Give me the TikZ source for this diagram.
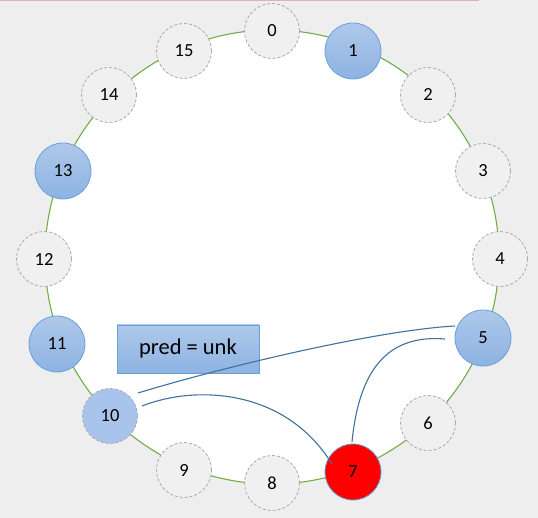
\documentclass[tikz,border=0pt]{standalone}
\usepackage{fontspec}
\setmainfont{Carlito}
\usetikzlibrary{calc}
\definecolor{bg}{HTML}{EEEEEE}
\definecolor{pinkline}{HTML}{E2AEBE}
\definecolor{ringgreen}{HTML}{70AD47}
\definecolor{dashgray}{HTML}{A9A9A9}
\definecolor{nodegray}{HTML}{F0F0F0}
\definecolor{blueTop}{HTML}{AEC8EA}
\definecolor{blueBot}{HTML}{8DB3E2}
\definecolor{blueedge}{HTML}{6A9FD8}
\definecolor{lightblue}{HTML}{A9C4EA}
\definecolor{linkblue}{HTML}{41719C}
\tikzset{
  idle/.style={circle, minimum size=55pt, inner sep=0pt, draw=dashgray, line width=0.8pt,
    dash pattern=on 3pt off 2pt, fill=nodegray, font=\fontsize{18.5}{18.5}\selectfont},
  live/.style={circle, minimum size=56pt, inner sep=0pt, draw=blueedge, line width=0.8pt,
    top color=blueTop, bottom color=blueBot, font=\fontsize{18.5}{18.5}\selectfont},
  halfnode/.style={circle, minimum size=55pt, inner sep=0pt, draw=dashgray, line width=0.8pt,
    dash pattern=on 3pt off 2pt, fill=lightblue, font=\fontsize{18.5}{18.5}\selectfont},
  hotnode/.style={circle, minimum size=56pt, inner sep=0pt, draw=blueedge, line width=0.8pt,
    fill=red, font=\fontsize{18.5}{18.5}\selectfont},
  predbox/.style={rectangle, minimum width=142pt, minimum height=48pt, inner sep=0pt,
    draw=blueedge, line width=0.8pt, top color=blueTop, bottom color=blueBot,
    font=\fontsize{22.5}{22.5}\selectfont},
  link/.style={draw=linkblue, line width=1.1pt},
  ring/.style={draw=ringgreen, line width=1.1pt, fill=white}
}
\begin{document}
\begin{tikzpicture}[x=1pt,y=-1pt]
\fill[bg] (0,0) rectangle (538,518);
\useasboundingbox (0,0) rectangle (538,518);
\fill[pinkline] (0,0) rectangle (479,1.2);
\path[ring] (272,257) circle (227pt);

\node[idle] (n0)  at (272,31)  {0};
\node[live] (n1)  at (353,51)  {1};
\node[idle] (n2)  at (428,95)  {2};
\node[idle] (n3)  at (483,171) {3};
\node[idle] (n4)  at (500,259) {4};
\node[live] (n5)  at (483,338) {5};
\node[idle] (n6)  at (428,423) {6};
\node[hotnode] (n7) at (353,472) {7};
\node[idle] (n8)  at (272,483) {8};
\node[idle] (n9)  at (184,470) {9};
\node[halfnode] (n10) at (110,416) {10};
\node[live] (n11) at (57,344)  {11};
\node[idle] (n12) at (44,259)  {12};
\node[live] (n13) at (63,171)  {13};
\node[idle] (n14) at (109,95)  {14};
\node[idle] (n15) at (184,51)  {15};

\node[predbox] (pred) at (188,349) {pred = unk};

\draw[link] ($(n10)+(28,-23)$) .. controls (230,365) and (380,330) .. ($(n5)+(-28,-12)$);
\draw[link] ($(n10)+(32,-10)$) .. controls (195,385) and (285,388) .. ($(n7)+(-21,-8)$);
\draw[link] ($(n5)+(-38,1)$) .. controls (395,335) and (360,360) .. ($(n7)+(-1,-30)$);
\end{tikzpicture}
\end{document}
